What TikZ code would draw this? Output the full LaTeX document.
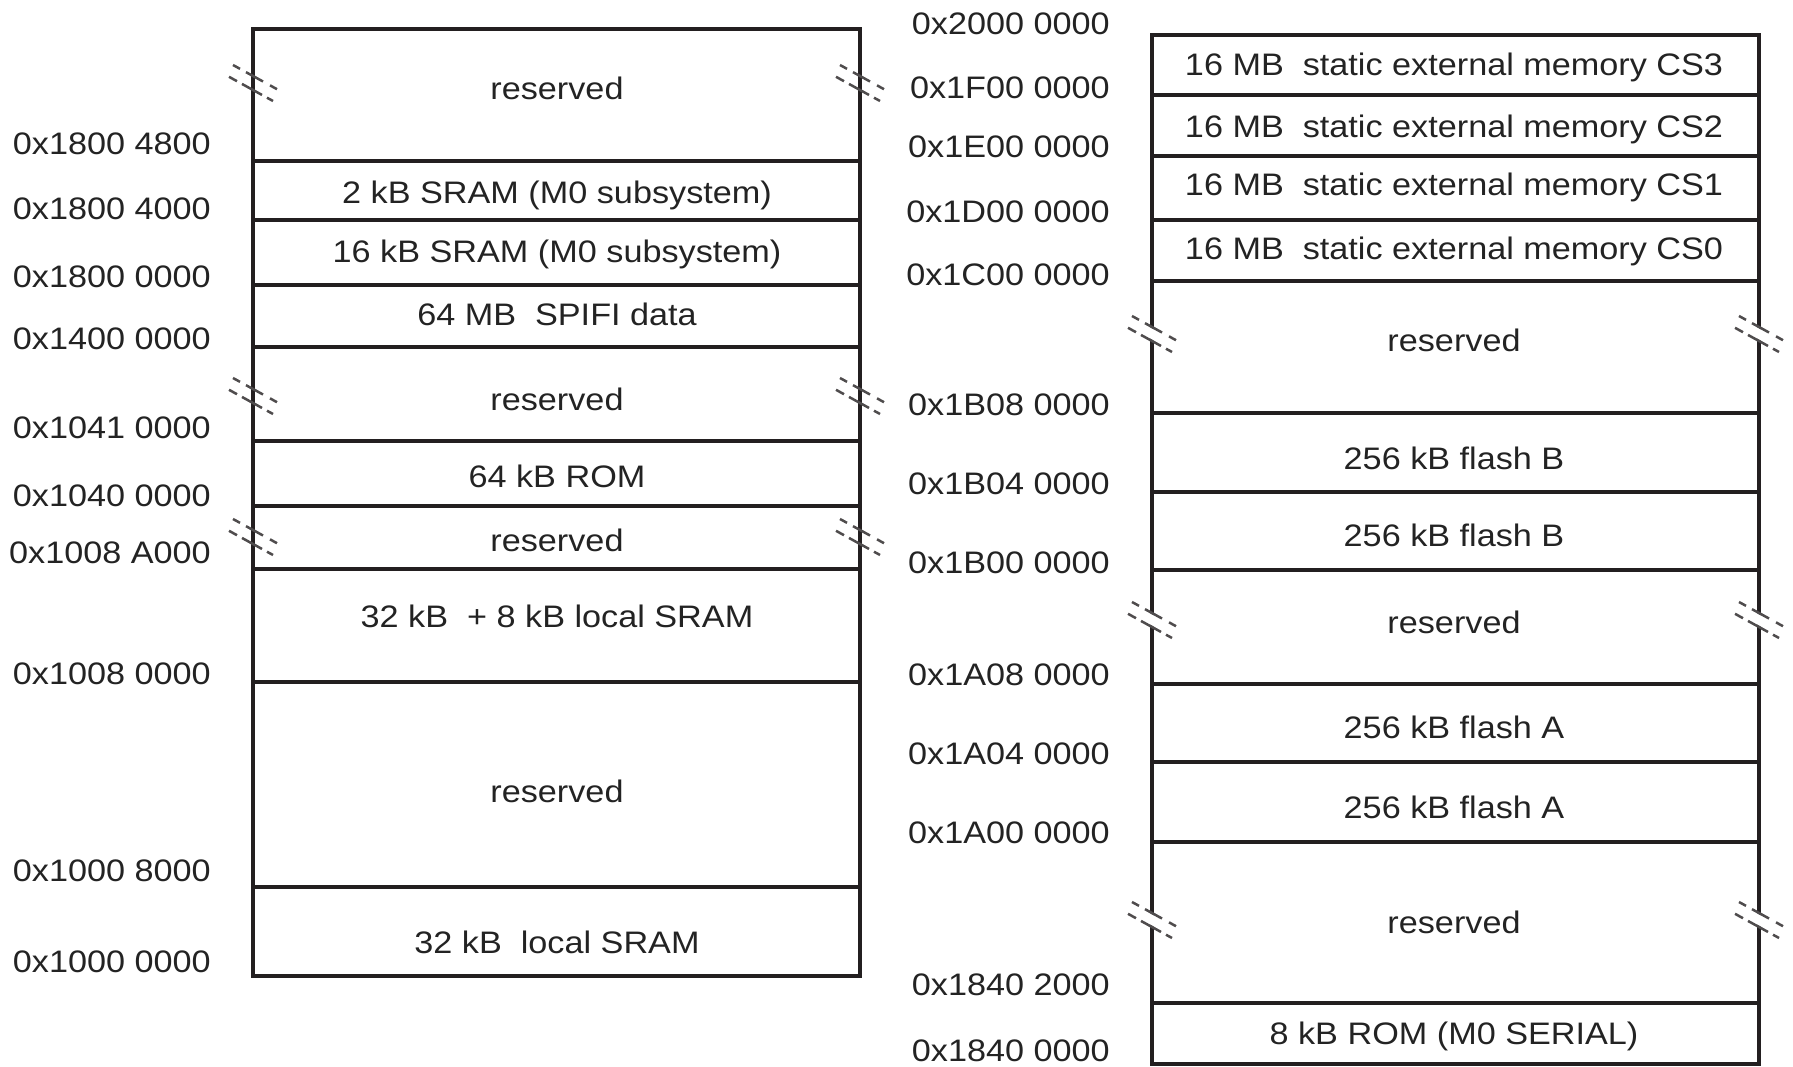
\documentclass[tikz,border=0pt]{standalone}
\usepackage{fontspec}
\setmainfont{Liberation Sans}[FakeStretch=1.1]
\definecolor{ink}{RGB}{35,31,32}
\definecolor{txt}{RGB}{35,35,35}
\newcommand\brkmark[3]{%
  \ifnum#3=1
    \fill[white] (#1-3.2,#2-5.6-1.8) -- (#1+3.2,#2-5.6+1.8) -- (#1+3.2,#2+5.6+1.8) -- (#1-3.2,#2+5.6-1.8) -- cycle;
  \fi
  \foreach \p/\q in {-20/-13,-7/10,17/24}
    \draw[brk] ({#1+\p},{#2-7+\p*0.55}) -- ({#1+\q},{#2-7+\q*0.55});
  \foreach \p/\q in {-24/-16,-11/9,14/20}
    \draw[brk] ({#1+\p},{#2+7+\p*0.55}) -- ({#1+\q},{#2+7+\q*0.55});
}
\begin{document}
\begin{tikzpicture}[x=1pt,y=-1pt,
  edge/.style={draw=ink,line width=4pt},
  addr/.style={anchor=base east,inner sep=0pt,text=txt,font=\fontsize{31.1}{36}\selectfont},
  cell/.style={anchor=base,inner sep=0pt,text=txt,font=\fontsize{31.1}{36}\selectfont},
  brk/.style={draw=ink!80,line width=2.5pt}]
\useasboundingbox (0,0) rectangle (1793,1067);

% left memory column
\draw[edge] (253,28.7) rectangle (860,976);
\foreach \y in {161.5,220,285,346.5,441,506,569,681.5,887}
  \draw[edge] (253,\y) -- (860,\y);

% right memory column
\draw[edge] (1152,35) rectangle (1759,1064);
\foreach \y in {95.5,156,220,281.5,412.5,492,570,683.5,762,842,1003}
  \draw[edge] (1152,\y) -- (1759,\y);

% break marks
\foreach \y in {83,396,537} {
  \brkmark{253}{\y}{0}
  \brkmark{860}{\y}{0}
}
\foreach \y in {334,620,920} {
  \brkmark{1152}{\y}{1}
  \brkmark{1759}{\y}{1}
}

% left cell texts
\foreach \t/\y [count=\i] in {reserved/99.5, 2 kB SRAM (M0 subsystem)/203.5,
  16 kB SRAM (M0 subsystem)/262.5, 64 MB~~SPIFI data/325.5, reserved/410.5,
  64 kB ROM/487.5, reserved/551.5, 32 kB~~+ 8 kB local SRAM/627.5,
  reserved/802.5, 32 kB~~local SRAM/953.5}
  \node[cell] (lc\i) at (557,\y) {\t};

% right cell texts
\foreach \t/\y [count=\i] in {16 MB~~static external memory CS3/76,
  16 MB~~static external memory CS2/138, 16 MB~~static external memory CS1/196,
  16 MB~~static external memory CS0/259.5, reserved/351,
  256 kB flash B/469.5, 256 kB flash B/546.5, reserved/633.5,
  256 kB flash A/738, 256 kB flash A/818.5, reserved/933.5,
  8 kB ROM (M0 SERIAL)/1044.5}
  \node[cell] (rc\i) at (1454,\y) {\t};

% left addresses
\foreach \t/\y [count=\i] in {0x1800 4800/155, 0x1800 4000/220, 0x1800 0000/287.5,
  0x1400 0000/349.4, 0x1041 0000/438, 0x1040 0000/506, 0x1008 A000/563,
  0x1008 0000/684, 0x1000 8000/881.5, 0x1000 0000/972}
  \node[addr] (la\i) at (211,\y) {\t};

% right addresses
\foreach \t/\y [count=\i] in {0x2000 0000/34.5, 0x1F00 0000/98.5, 0x1E00 0000/158,
  0x1D00 0000/223, 0x1C00 0000/285.7, 0x1B08 0000/415, 0x1B04 0000/494.5,
  0x1B00 0000/573.6, 0x1A08 0000/685, 0x1A04 0000/764.5, 0x1A00 0000/843.5,
  0x1840 2000/995, 0x1840 0000/1061}
  \node[addr] (ra\i) at (1110,\y) {\t};
\end{tikzpicture}
\end{document}
